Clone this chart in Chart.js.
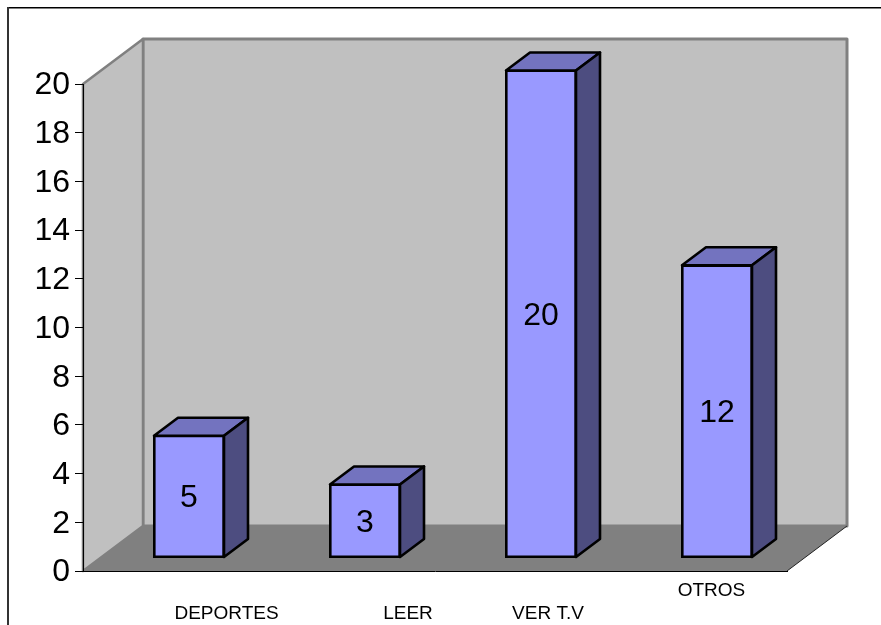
<!DOCTYPE html>
<html>
<head>
<meta charset="utf-8">
<style>html,body{margin:0;padding:0;background:#fff;overflow:hidden}canvas{display:block}</style>
<script src="https://cdn.jsdelivr.net/npm/chart.js@4"></script>
</head>
<body>
<canvas id="c" width="881" height="625"></canvas>
<script>
const categories = ['DEPORTES', 'LEER', 'VER T.V', 'OTROS'];
const values = [5, 3, 20, 12];
const yMin = 0, yMax = 20, yStep = 2;

// Styling / perspective (pixels), separate from the data
const wallDepth = {x: 60, y: -45};
const barShift = {x: 18, y: -13.5};
const barDepth = {x: 24, y: -18};
const labelOffset = [{x: 55.5, y: 43}, {x: 61, y: 43}, {x: 25, y: 43}, {x: 12.5, y: 20}];
const tickNudgeY = 1.5;
const FONT = '"Liberation Sans", Arial, sans-serif';

function poly(ctx, pts, fill, stroke, lw) {
  ctx.beginPath();
  pts.forEach((p, i) => i ? ctx.lineTo(p[0], p[1]) : ctx.moveTo(p[0], p[1]));
  ctx.closePath();
  if (fill) { ctx.fillStyle = fill; ctx.fill(); }
  if (stroke) { ctx.strokeStyle = stroke; ctx.lineWidth = lw; ctx.lineJoin = 'round'; ctx.stroke(); }
}

const scene3d = {
  id: 'scene3d',
  beforeDraw(chart) {
    const {ctx, chartArea: a} = chart;
    const d = wallDepth;
    chart.scales.y.getLabelItems().forEach((item) => {
      if (!item.nudged) { item.options.translation[1] += tickNudgeY; item.nudged = true; }
    });
    ctx.save();
    ctx.fillStyle = '#fff';
    ctx.fillRect(0, 0, chart.width, chart.height);
    // outer frame
    ctx.fillStyle = '#000';
    ctx.fillRect(8, 7, chart.width - 8, 1.5);
    ctx.fillStyle = '#333';
    ctx.fillRect(7, 7, 2, chart.height - 7);
    // walls
    poly(ctx, [[a.left + d.x, a.top + d.y], [a.right + d.x, a.top + d.y], [a.right + d.x, a.bottom + d.y], [a.left + d.x, a.bottom + d.y]], '#C0C0C0', '#808080', 3);
    poly(ctx, [[a.left, a.top], [a.left + d.x, a.top + d.y], [a.left + d.x, a.bottom + d.y], [a.left, a.bottom]], '#C0C0C0', '#808080', 2.5);
    // floor
    poly(ctx, [[a.left, a.bottom], [a.left + d.x, a.bottom + d.y], [a.right + d.x, a.bottom + d.y], [a.right, a.bottom]], '#808080');
    ctx.strokeStyle = '#222';
    ctx.lineWidth = 1;
    ctx.beginPath();
    ctx.moveTo(a.right, a.bottom);
    ctx.lineTo(a.right + d.x, a.bottom + d.y);
    ctx.stroke();
    ctx.restore();
  },
  beforeDatasetDraw(chart) {
    chart.ctx.save();
    chart.ctx.translate(barShift.x, barShift.y);
  },
  afterDatasetDraw(chart, args) {
    const ctx = chart.ctx;
    ctx.restore();
    args.meta.data.forEach((bar) => {
      const l = bar.x - bar.width / 2 + barShift.x;
      const r = bar.x + bar.width / 2 + barShift.x;
      const t = bar.y + barShift.y;
      const b = bar.base + barShift.y;
      const dx = barDepth.x, dy = barDepth.y;
      poly(ctx, [[l, t], [l + dx, t + dy], [r + dx, t + dy], [r, t]], '#7373BF', '#000', 2.6);
      poly(ctx, [[r, t], [r + dx, t + dy], [r + dx, b + dy], [r, b]], '#4D4D80', '#000', 2.6);
    });
  },
  afterDatasetsDraw(chart) {
    const ctx = chart.ctx;
    const xs = chart.scales.x;
    const meta = chart.getDatasetMeta(0);
    ctx.save();
    ctx.fillStyle = '#000';
    ctx.textAlign = 'center';
    ctx.textBaseline = 'middle';
    ctx.font = '32px ' + FONT;
    meta.data.forEach((bar, i) => {
      ctx.fillText(String(values[i]), bar.x + barShift.x, (bar.y + bar.base) / 2 + barShift.y + 2);
    });
    ctx.font = '19px ' + FONT;
    categories.forEach((label, i) => {
      ctx.fillText(label, xs.getPixelForTick(i) + labelOffset[i].x, xs.top + labelOffset[i].y);
    });
    ctx.restore();
  }
};

new Chart(document.getElementById('c'), {
  type: 'bar',
  data: {
    labels: categories,
    datasets: [{
      label: 'Serie',
      data: values,
      backgroundColor: '#9999FF',
      borderColor: '#000',
      borderWidth: 2.6,
      borderSkipped: false,
      inflateAmount: 1,
      barThickness: 70,
      clip: false
    }]
  },
  plugins: [scene3d],
  options: {
    responsive: false,
    animation: false,
    layout: {padding: {top: 84, right: 94, left: 0, bottom: 0}},
    plugins: {legend: {display: false}, tooltip: {enabled: false}, title: {display: false}},
    scales: {
      x: {
        ticks: {display: false},
        grid: {display: false},
        border: {display: true, color: '#000', width: 1},
        afterFit(s) { s.height = 54; }
      },
      y: {
        min: yMin,
        max: yMax,
        ticks: {stepSize: yStep, color: '#000', padding: 5, font: {size: 32, family: FONT}},
        grid: {drawOnChartArea: false, drawTicks: true, tickLength: 8, color: '#000', lineWidth: 1},
        border: {display: true, color: '#000', width: 1},
        afterFit(s) { s.width = 83; }
      }
    }
  }
});
</script>
</body>
</html>
